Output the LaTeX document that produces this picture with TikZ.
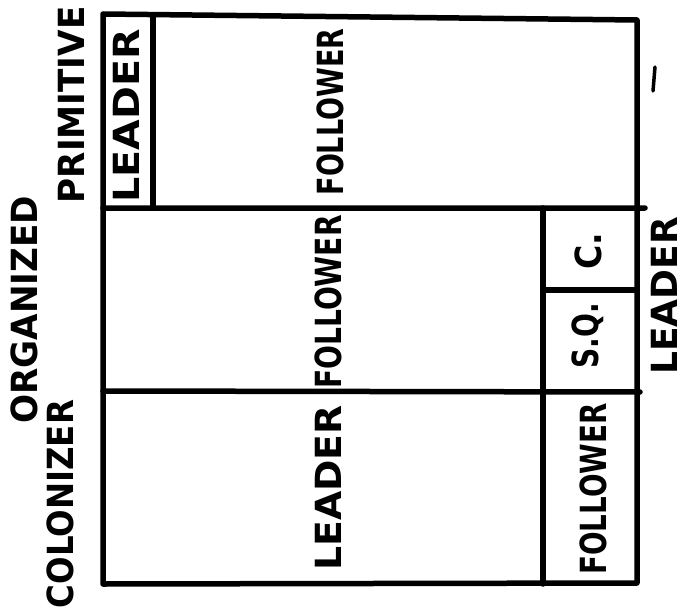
\documentclass[tikz,border=0pt]{standalone}
\usepackage{fontspec}
\setsansfont{DejaVu Sans}
\usetikzlibrary{positioning}
\newcommand{\penword}[2]{\scalebox{#1}[1]{#2}}
\tikzset{
  wall/.style={line width=5.5pt, line cap=round, line join=round},
  tag/.style={rotate=90, inner sep=0pt, font=\sffamily\bfseries\fontsize{36}{38}\selectfont}
}
\begin{document}
\begin{tikzpicture}[x=1pt, y=-1pt]
    \useasboundingbox (0,0) rectangle (685,615);
    \coordinate (NW) at (103,14);
    \coordinate (NE) at (637,20);
    \coordinate (SE) at (637,583);
    \coordinate (SW) at (103,584);
    \coordinate (R1w) at (103,208);
    \coordinate (R1e) at (645,208);
    \coordinate (R2w) at (103,391);
    \coordinate (R2e) at (640,392);
    \coordinate (Ltop) at (153,16);
    \coordinate (Lbot) at (153,208);
    \coordinate (Ktop) at (543,208);
    \coordinate (Kbot) at (543,584);
    \coordinate (Sw) at (543,290);
    \coordinate (Se) at (637,290);
    % grid
    \draw[wall] (NW)--(NE)--(SE)--(SW)--cycle;
    \draw[wall] (R1w)--(R1e) (R2w)--(R2e);
    \draw[wall] (Ltop)--(Lbot) (Ktop)--(Kbot) (Sw)--(Se);
    \draw[wall, line width=3.5pt] (655,67)--(653,91);
    % row labels
    \node[tag] (organized) at (24,310) {\penword{0.95}{ORGANIZED}};
    \node[tag] (colonizer) at (60,504) {\penword{0.9}{COLONIZER}};
    \node[tag] (primitive) at (71,105) {\penword{0.95}{PRIMITIVE}};
    % cells
    \node[tag] (pleader) at (126,116) {\penword{1.1}{LEADER}};
    \node[tag] (pfollower) at (330,112) {\penword{0.75}{FOLLOWER}};
    \node[tag] (ofollower) at (328,302) {\penword{0.78}{FOLLOWER}};
    \node[tag] (cleader) at (328,488) {\penword{1.05}{LEADER}};
    \node[tag] (c) at (588,251) {\penword{0.92}{C.}};
    \node[tag] (sq) at (588,336) {\penword{0.78}{S.Q.}};
    \node[tag] (cfollower) at (593,489) {\penword{0.77}{FOLLOWER}};
    \node[tag] (oleader) at (664,296) {\penword{1.0}{LEADER}};
\end{tikzpicture}
\end{document}
